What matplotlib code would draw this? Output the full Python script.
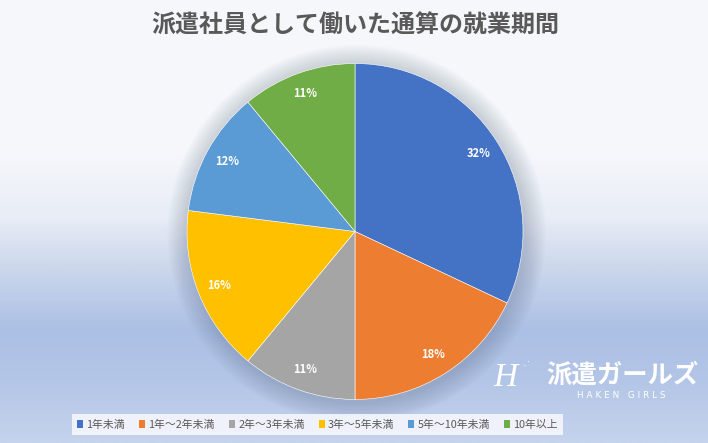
import numpy as np
import matplotlib.pyplot as plt
from matplotlib.patches import Patch, Circle
from matplotlib.colors import LinearSegmentedColormap

plt.rcParams['font.family'] = ['Noto Sans CJK JP', 'DejaVu Sans']

# data
title = '派遣社員として働いた通算の就業期間'
categories = ['1年未満', '1年〜2年未満', '2年〜3年未満', '3年〜5年未満', '5年〜10年未満', '10年以上']
shares = [32, 18, 11, 16, 12, 11]
colors = ['#4472C4', '#ED7D31', '#A5A5A5', '#FFC000', '#5B9BD5', '#70AD47']

W, H = 708, 443
fig = plt.figure(figsize=(W / 100, H / 100), dpi=100)

# background gradient (white at top, light blue lower down)
bg = fig.add_axes([0, 0, 1, 1], zorder=0)
stops = [(0.0, (246, 247, 251)), (0.33, (247, 248, 252)), (0.49, (232, 237, 246)),
         (0.60, (205, 216, 236)), (0.745, (172, 192, 229)), (0.865, (180, 198, 231)),
         (1.0, (197, 211, 236))]
cmap = LinearSegmentedColormap.from_list('bg', [(p, tuple(c / 255 for c in rgb)) for p, rgb in stops])
grad = np.linspace(0, 1, 400).reshape(-1, 1)
bg.imshow(grad, aspect='auto', cmap=cmap, extent=[0, 1, 0, 1], origin='upper')
bg.set_xlim(0, 1)
bg.set_ylim(0, 1)
bg.axis('off')

# pie
cx, cy, r = 355, 231.5, 168
ax = fig.add_axes([(cx - r) / W, (H - cy - r) / H, 2 * r / W, 2 * r / H], zorder=2)
ax.patch.set_alpha(0)

# soft shadow behind the pie
for i in range(14):
    ax.add_patch(Circle((0.01, -0.015), 1.0 + 0.009 * (14 - i), color='#4a5a7a',
                        alpha=0.018, lw=0, zorder=0, clip_on=False))

wedges, texts, autotexts = ax.pie(
    shares, colors=colors, startangle=90, counterclock=False,
    autopct='%d%%', pctdistance=0.87, radius=1.0,
    wedgeprops=dict(edgecolor='white', linewidth=0.4),
    textprops=dict(color='white', fontsize=8, fontweight='bold'))
for w in wedges:
    w.set_zorder(2)
ax.set_xlim(-1, 1)
ax.set_ylim(-1, 1)
ax.set_aspect('equal')
ax.axis('off')

fig.text(355 / W, 1 - 26 / H, title, ha='center', va='center',
         fontsize=17.3, fontweight='bold', color='#595959', zorder=3)

# legend at the bottom
handles = [Patch(facecolor=c, edgecolor='none') for c in colors]
leg = fig.legend(handles, categories, loc='center', bbox_to_anchor=(317.5 / W, 18.5 / H),
                 ncol=6, fontsize=7.8, frameon=True, fancybox=False,
                 handlelength=0.55, handleheight=0.7, handletextpad=0.3,
                 columnspacing=1.3, borderpad=0.5, borderaxespad=0)
leg.get_frame().set_facecolor('#F2F5FB')
leg.get_frame().set_edgecolor('none')
leg.get_frame().set_alpha(0.95)
for t in leg.get_texts():
    t.set_color('#595959')
leg.set_zorder(4)

# watermark logo
fig.text(505 / W, 1 - 378 / H, 'H', fontsize=24, color='white', ha='center', va='center',
         family=['Liberation Serif'], style='italic', zorder=5)
fig.text(527 / W, 1 - 366 / H, '·˙', fontsize=8, color='white', ha='center', va='center',
         family=['DejaVu Sans'], zorder=5)
fig.text(622 / W, 1 - 375 / H, '派遣ガールズ', fontsize=18.3, fontweight='bold',
         color='white', ha='center', va='center', zorder=5)
fig.text(621 / W, 1 - 395 / H, 'H A K E N   G I R L S', fontsize=6.4, color='white',
         ha='center', va='center', family=['DejaVu Sans'], zorder=5)

fig.savefig('out.png', dpi=100)
